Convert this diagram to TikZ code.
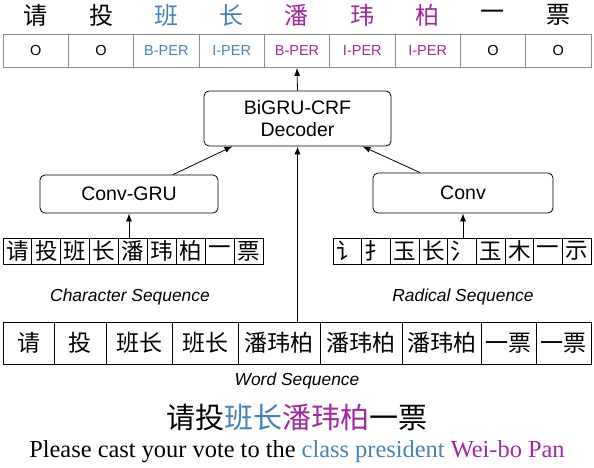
\documentclass[tikz,border=0pt]{standalone}
\usepackage{fontspec}
\setmainfont{Liberation Serif}
\setsansfont{Liberation Sans}
\newfontfamily\cjk{Noto Sans CJK SC}
\usetikzlibrary{arrows.meta}
\definecolor{clsblue}{RGB}{70,130,180}
\definecolor{namepurple}{RGB}{160,40,160}
\definecolor{taggray}{RGB}{140,140,140}

\begin{document}
\begin{tikzpicture}[x=1pt, y=-1pt,
  tagcell/.style={draw=taggray, line width=0.8pt, minimum width=65.33pt,
    minimum height=33pt, inner sep=0pt, font=\sffamily\fontsize{14.5}{14.5}\selectfont},
  seqcell/.style={draw, line width=0.8pt, minimum height=26pt, inner sep=0pt,
    font=\cjk\fontsize{22.5}{22.5}\selectfont},
  block/.style={draw, line width=0.8pt, rounded corners=5pt, align=center,
    font=\sffamily\fontsize{19.5}{22}\selectfont},
  seqlabel/.style={font=\sffamily\itshape\fontsize{17.4}{17.4}\selectfont},
  link/.style={line width=0.8pt, -{Latex[length=8pt,width=6pt]}}]
\useasboundingbox (0,0) rectangle (594,468);

% Output tags with the sentence above them
\foreach \i/\ch/\tag/\col in {0/请/O/black, 1/投/O/black, 2/班/B-PER/clsblue,
  3/长/I-PER/clsblue, 4/潘/B-PER/namepurple, 5/玮/I-PER/namepurple,
  6/柏/I-PER/namepurple, 7/一/O/black, 8/票/O/black} {
  \node (t\i) at (35.67+65.33*\i, 51) [tagcell, text=\col] {\tag};
  \node (h\i) at (35.67+65.33*\i, 15) [font=\cjk\fontsize{24}{24}\selectfont, text=\col] {\ch};
}

% Character and radical sequences
\foreach \ch [count=\i from 0] in {请,投,班,长,潘,玮,柏,一,票} {
  \node (c\i) at (17.44+28.89*\i, 251) [seqcell, minimum width=28.89pt] {\ch};
}
\foreach \ch [count=\i from 0] in {讠,扌,玉,长,氵,玉,木,一,示} {
  \node (r\i) at (347.33+28.67*\i, 251) [seqcell, minimum width=28.67pt] {\ch};
}

% Word sequence, one cell per character
\foreach \i/\x/\w/\word in {0/28.5/51/请, 1/80/52/投, 2/139/66/班长, 3/205/66/班长,
  4/279/82/潘玮柏, 5/361/82/潘玮柏, 6/441.5/79/潘玮柏, 7/508.5/55/一票, 8/563.5/55/一票} {
  \node (w\i) at (\x, 343) [seqcell, minimum width=\w pt, minimum height=42pt,
    font=\cjk\fontsize{23}{23}\selectfont] {\word};
}

\node (clab) at (130,297) [seqlabel] {Character Sequence};
\node (rlab) at (463,297) [seqlabel] {Radical Sequence};
\node (wlab) at (297,381) [seqlabel] {Word Sequence};

% Encoders and decoder
\node (dec) at (297.5,118.5) [block, minimum width=187pt, minimum height=55pt] {BiGRU-CRF\\Decoder};
\node (cgru) at (129,194) [block, minimum width=178pt, minimum height=38pt] {Conv-GRU};
\node (conv) at (463,193) [block, minimum width=180pt, minimum height=40pt] {Conv};

\draw [link] (dec.north) -- (t4.south);
\draw [link] (c4.north -| cgru.south) -- (cgru.south);
\draw [link] (r4.north -| conv.south) -- (conv.south);
\draw [link] (w4.north -| dec.south) -- (dec.south);
\draw [link] ([xshift=44pt]cgru.north) -- ([xshift=-65pt]dec.south);
\draw [link] ([xshift=-43pt]conv.north) -- ([xshift=65pt]dec.south);

% The example sentence and its translation
\node (zh) at (297,417) [font=\cjk\fontsize{29}{29}\selectfont]
  {请投\textcolor{clsblue}{班长}\textcolor{namepurple}{潘玮柏}一票};
\node (en) at (297,452) [font=\fontsize{24.4}{24.4}\selectfont]
  {Please cast your vote to the \textcolor{clsblue}{class president} \textcolor{namepurple}{Wei-bo Pan}};
\end{tikzpicture}
\end{document}
